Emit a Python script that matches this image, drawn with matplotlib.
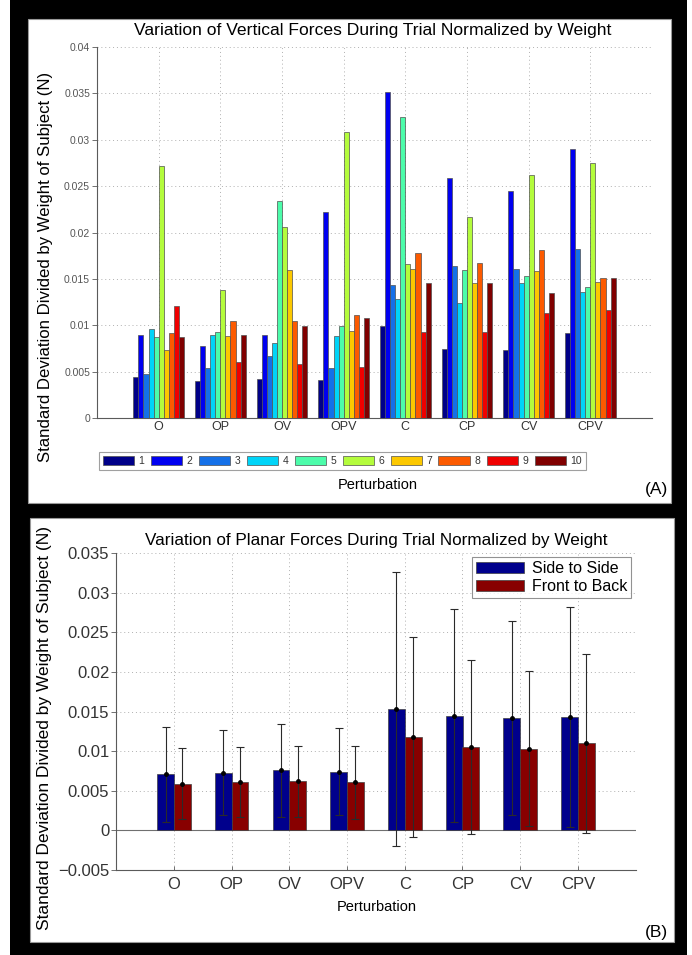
import matplotlib
matplotlib.use("Agg")
import matplotlib.pyplot as plt
from matplotlib.patches import Rectangle
import numpy as np

plt.rcParams['font.family'] = ['Liberation Sans', 'DejaVu Sans']

# ---------------- data ----------------
categories = ["O", "OP", "OV", "OPV", "C", "CP", "CV", "CPV"]
subjects = ["1", "2", "3", "4", "5", "6", "7", "8", "9", "10"]

# vertical forces: rows = perturbation, cols = subject 1..10
vert_O   = [0.0044, 0.0090, 0.0048, 0.0096, 0.0087, 0.0272, 0.0074, 0.0092, 0.0121, 0.0088]
vert_OP  = [0.0040, 0.0078, 0.0054, 0.0090, 0.0093, 0.0138, 0.0089, 0.0105, 0.0061, 0.0090]
vert_OV  = [0.0042, 0.0090, 0.0067, 0.0081, 0.0234, 0.0206, 0.0160, 0.0105, 0.0058, 0.0099]
vert_OPV = [0.0041, 0.0222, 0.0054, 0.0089, 0.0099, 0.0308, 0.0094, 0.0111, 0.0055, 0.0108]
vert_C   = [0.0099, 0.0351, 0.0144, 0.0128, 0.0324, 0.0166, 0.0161, 0.0178, 0.0093, 0.0146]
vert_CP  = [0.0075, 0.0259, 0.0164, 0.0124, 0.0160, 0.0217, 0.0146, 0.0167, 0.0093, 0.0146]
vert_CV  = [0.0073, 0.0245, 0.0161, 0.0146, 0.0153, 0.0262, 0.0159, 0.0181, 0.0113, 0.0135]
vert_CPV = [0.0092, 0.0290, 0.0182, 0.0136, 0.0141, 0.0275, 0.0147, 0.0151, 0.0117, 0.0151]

# planar forces
side_mean  = [0.0071, 0.0073, 0.0076, 0.0074, 0.0153, 0.0145, 0.0142, 0.0143]
side_err   = [0.0060, 0.0054, 0.0059, 0.0055, 0.0173, 0.0135, 0.0122, 0.0139]
front_mean = [0.0059, 0.0061, 0.0062, 0.0061, 0.0118, 0.0105, 0.0103, 0.0110]
front_err  = [0.0045, 0.0044, 0.0045, 0.0046, 0.0126, 0.0110, 0.0098, 0.0113]

vert_ticks = [0, 0.005, 0.01, 0.015, 0.02, 0.025, 0.03, 0.035, 0.04]
vert_ticklabels = ["0", "0.005", "0.01", "0.015", "0.02", "0.025", "0.03", "0.035", "0.04"]
plan_ticks = [-0.005, 0, 0.005, 0.01, 0.015, 0.02, 0.025, 0.03, 0.035]
plan_ticklabels = ["\u22120.005", "0", "0.005", "0.01", "0.015", "0.02", "0.025", "0.03", "0.035"]

# ---------------- style ----------------
jet_colors = ["#000088", "#0000F0", "#1470E8", "#00D4F8", "#4CFCAA",
              "#B4FC3C", "#FCC800", "#FC5A00", "#F00000", "#800000"]
side_color = "#00008C"
front_color = "#880000"
axis_gray = "#5a5a5a"
tick_gray = "#333333"

W, H = 692, 955
fig = plt.figure(figsize=(W / 100, H / 100), dpi=100)
fig.patch.set_facecolor("white")


def fx(px):
    return px / W


def fy(py):
    return 1 - py / H


def frect(x0, y0, x1, y1):
    return [fx(x0), fy(y1), fx(x1) - fx(x0), fy(y0) - fy(y1)]


# black frame and white panels
fig.patches.append(Rectangle((fx(10), 0), fx(687) - fx(10), 1, transform=fig.transFigure,
                             facecolor="black", edgecolor="none", zorder=-3))
fig.patches.append(Rectangle((fx(28), fy(503)), fx(671) - fx(28), fy(19) - fy(503),
                             transform=fig.transFigure, facecolor="white",
                             edgecolor="#999999", linewidth=0.8, zorder=-2))
fig.patches.append(Rectangle((fx(30), fy(942)), fx(674) - fx(30), fy(518) - fy(942),
                             transform=fig.transFigure, facecolor="white",
                             edgecolor="#999999", linewidth=0.8, zorder=-2))


def style_axes(ax):
    ax.set_facecolor("none")
    for s in ["top", "right"]:
        ax.spines[s].set_visible(False)
    for s in ["left", "bottom"]:
        ax.spines[s].set_color(axis_gray)
        ax.spines[s].set_linewidth(0.8)
    ax.tick_params(axis="x", direction="in", length=3, color=axis_gray, width=0.6)
    ax.tick_params(axis="y", direction="out", length=3.5, color=axis_gray, width=0.6)
    ax.grid(True, linestyle=(0, (1, 3)), color="#b0b0b0", linewidth=0.7)
    ax.set_axisbelow(True)


# ---------------- top chart ----------------
ax1 = fig.add_axes(frect(97, 46.7, 652, 418.3))
style_axes(ax1)
vert = np.array([vert_O, vert_OP, vert_OV, vert_OPV, vert_C, vert_CP, vert_CV, vert_CPV])
x = np.arange(1, len(categories) + 1)
bw = 0.082
handles = []
for j in range(len(subjects)):
    offs = (j - (len(subjects) - 1) / 2) * bw
    b = ax1.bar(x + offs, vert[:, j], width=bw, color=jet_colors[j],
                edgecolor="#505050", linewidth=0.5, label=subjects[j], zorder=3)
    handles.append(b)
ax1.set_xlim(0, 9)
ax1.set_ylim(0, 0.04)
ax1.set_xticks(x)
ax1.set_xticklabels(categories, fontsize=9, color=tick_gray)
ax1.set_yticks(vert_ticks)
ax1.set_yticklabels(vert_ticklabels, fontsize=7.5, color="#555555")
ax1.tick_params(axis="x", pad=2)
ax1.tick_params(axis="y", pad=1.5)

leg1 = fig.legend(handles=handles, labels=subjects, ncol=10,
                  loc="center left", bbox_to_anchor=(fx(99), fy(461)),
                  fontsize=7.5, handlelength=3.0, handleheight=0.9,
                  handletextpad=0.45, columnspacing=0.6, borderpad=0.35,
                  frameon=True, fancybox=False, edgecolor="#888888",
                  borderaxespad=0)
leg1.get_frame().set_linewidth(0.8)
for t in leg1.get_texts():
    t.set_color(tick_gray)

fig.text(fx(373), fy(31), "Variation of Vertical Forces During Trial Normalized by Weight",
         ha="center", va="center", fontsize=12.6)
fig.text(fx(378), fy(485), "Perturbation", ha="center", va="center", fontsize=10.5)
fig.text(fx(656), fy(489), "(A)", ha="center", va="center", fontsize=12.5)
fig.text(fx(46), fy(267), "Standard Deviation Divided by Weight of Subject (N)",
         ha="center", va="center", rotation=90, fontsize=12.1)

# ---------------- bottom chart ----------------
ax2 = fig.add_axes(frect(116.3, 553.3, 635.6, 870))
style_axes(ax2)
pw = 0.29
ax2.bar(x - pw / 2, side_mean, width=pw, color=side_color, edgecolor="#404040",
        linewidth=0.5, label="Side to Side", zorder=3)
ax2.bar(x + pw / 2, front_mean, width=pw, color=front_color, edgecolor="#404040",
        linewidth=0.5, label="Front to Back", zorder=3)
ax2.errorbar(x - pw / 2, side_mean, yerr=side_err, fmt=".", color="black",
             ecolor="#2a2a2a", elinewidth=0.8, capsize=2.8, capthick=0.8,
             markersize=5, zorder=4)
ax2.errorbar(x + pw / 2, front_mean, yerr=front_err, fmt=".", color="black",
             ecolor="#2a2a2a", elinewidth=0.8, capsize=2.8, capthick=0.8,
             markersize=5, zorder=4)
ax2.axhline(0, color="#707070", linewidth=0.8, zorder=2)
ax2.set_xlim(0, 9)
ax2.set_ylim(-0.005, 0.035)
ax2.set_xticks(x)
ax2.set_xticklabels(categories, fontsize=12, color=tick_gray)
ax2.set_yticks(plan_ticks)
ax2.set_yticklabels(plan_ticklabels, fontsize=12, color=tick_gray)
ax2.tick_params(axis="x", pad=5)
ax2.tick_params(axis="y", pad=1.5)
leg2 = ax2.legend(loc="upper right", bbox_to_anchor=(fx(631), fy(557)),
                  bbox_transform=fig.transFigure, fontsize=11.5,
                  handlelength=3.0, handleheight=0.75, handletextpad=0.5,
                  labelspacing=0.2, borderpad=0.25, frameon=True, fancybox=False,
                  edgecolor="#777777", borderaxespad=0)
leg2.get_frame().set_linewidth(0.8)

fig.text(fx(376), fy(540), "Variation of Planar Forces During Trial Normalized by Weight",
         ha="center", va="center", fontsize=12.3)
fig.text(fx(377), fy(907), "Perturbation", ha="center", va="center", fontsize=10.5)
fig.text(fx(656), fy(932), "(B)", ha="center", va="center", fontsize=12.5)
fig.text(fx(45), fy(728), "Standard Deviation Divided by Weight of Subject (N)",
         ha="center", va="center", rotation=90, fontsize=12.5)

fig.savefig("out.png", dpi=100, facecolor=fig.get_facecolor())
